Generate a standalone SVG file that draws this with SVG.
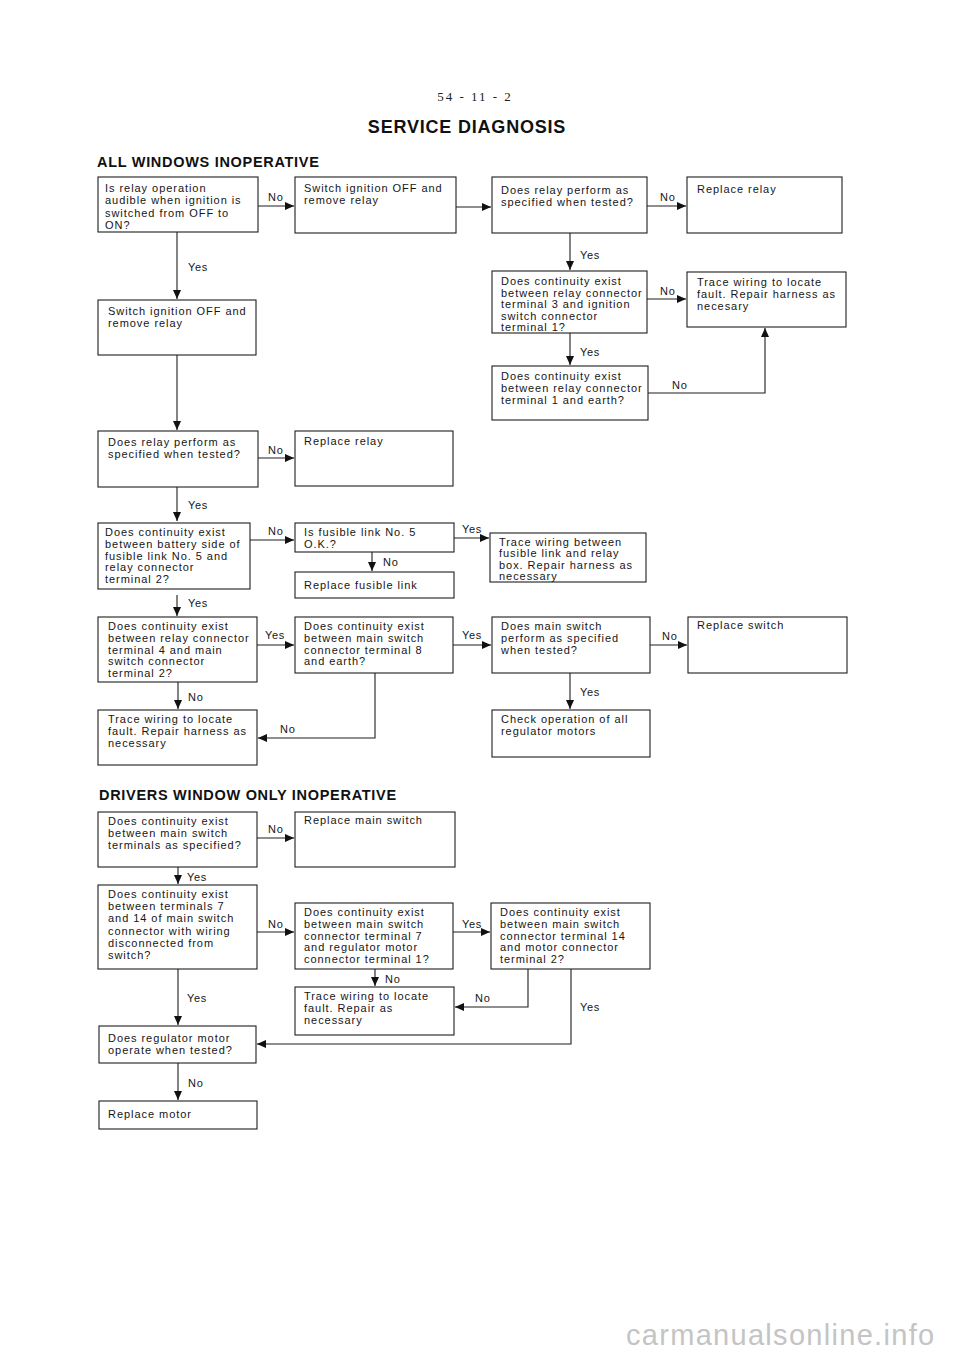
<svg xmlns="http://www.w3.org/2000/svg" width="960" height="1357" viewBox="0 0 960 1357">
<style>
.bg{fill:#fff}
.box{fill:none;stroke:#1e1e1e;stroke-width:1.1}
.t{font-family:"Liberation Sans",Arial,Helvetica,sans-serif;font-size:11px;letter-spacing:0.95px;fill:#161616}
.lbl{font-family:"Liberation Sans",Arial,Helvetica,sans-serif;font-size:11px;letter-spacing:0.7px;fill:#161616}
.h{font-family:"Liberation Sans",Arial,Helvetica,sans-serif;font-weight:bold;fill:#111}
.c{fill:none;stroke:#1e1e1e;stroke-width:1.1;marker-end:url(#ah)}
</style>
<defs>
<marker id="ah" markerUnits="userSpaceOnUse" markerWidth="9" markerHeight="8" refX="9" refY="4" orient="auto">
<path d="M0,0 L9,4 L0,8 Z" fill="#111"/>
</marker>
</defs>
<rect class="bg" x="0" y="0" width="960" height="1357"/>
<text x="475" y="101" text-anchor="middle" font-family="'Liberation Serif',serif" font-size="13" letter-spacing="2" fill="#222">54 - 11 - 2</text>
<text class="h" x="467" y="133" text-anchor="middle" font-size="18" letter-spacing="0.8">SERVICE DIAGNOSIS</text>
<text class="h" x="97" y="167" font-size="14.5" letter-spacing="0.7">ALL WINDOWS INOPERATIVE</text>
<text class="h" x="99" y="800" font-size="14.5" letter-spacing="0.7">DRIVERS WINDOW ONLY INOPERATIVE</text>

<g id="n1"><rect class="box" x="98" y="177" width="160" height="55"/><text class="t" y="192"><tspan x="105">Is relay operation</tspan><tspan x="105" dy="12.4">audible when ignition is</tspan><tspan x="105" dy="12.4">switched from OFF to</tspan><tspan x="105" dy="12.4">ON?</tspan></text></g>
<g id="n2"><rect class="box" x="295" y="177" width="161" height="56"/><text class="t" y="192"><tspan x="304">Switch ignition OFF and</tspan><tspan x="304" dy="12.4">remove relay</tspan></text></g>
<g id="n3"><rect class="box" x="492" y="177" width="155" height="56"/><text class="t" y="194"><tspan x="501">Does relay perform as</tspan><tspan x="501" dy="12.4">specified when tested?</tspan></text></g>
<g id="n4"><rect class="box" x="687" y="177" width="155" height="56"/><text class="t" y="193"><tspan x="697">Replace relay</tspan></text></g>
<g id="n5"><rect class="box" x="492" y="271" width="155" height="62"/><text class="t" y="285"><tspan x="501">Does continuity exist</tspan><tspan x="501" dy="11.6">between relay connector</tspan><tspan x="501" dy="11.6">terminal 3 and ignition</tspan><tspan x="501" dy="11.6">switch connector</tspan><tspan x="501" dy="11.6">terminal 1?</tspan></text></g>
<g id="n6"><rect class="box" x="687" y="272" width="159" height="55"/><text class="t" y="286"><tspan x="697">Trace wiring to locate</tspan><tspan x="697" dy="12">fault. Repair harness as</tspan><tspan x="697" dy="12">necesary</tspan></text></g>
<g id="n7"><rect class="box" x="492" y="366" width="156" height="54"/><text class="t" y="380"><tspan x="501">Does continuity exist</tspan><tspan x="501" dy="12">between relay connector</tspan><tspan x="501" dy="12">terminal 1 and earth?</tspan></text></g>
<g id="n8"><rect class="box" x="98" y="300" width="158" height="55"/><text class="t" y="315"><tspan x="108">Switch ignition OFF and</tspan><tspan x="108" dy="12.4">remove relay</tspan></text></g>
<g id="n9"><rect class="box" x="98" y="431" width="160" height="56"/><text class="t" y="446"><tspan x="108">Does relay perform as</tspan><tspan x="108" dy="12.4">specified when tested?</tspan></text></g>
<g id="n10"><rect class="box" x="295" y="431" width="158" height="55"/><text class="t" y="445"><tspan x="304">Replace relay</tspan></text></g>
<g id="n11"><rect class="box" x="98" y="523" width="152" height="66"/><text class="t" y="536"><tspan x="105">Does continuity exist</tspan><tspan x="105" dy="11.8">between battery side of</tspan><tspan x="105" dy="11.8">fusible link No. 5 and</tspan><tspan x="105" dy="11.8">relay connector</tspan><tspan x="105" dy="11.8">terminal 2?</tspan></text></g>
<g id="n12"><rect class="box" x="295" y="523" width="159" height="29"/><text class="t" y="536"><tspan x="304">Is fusible link No. 5</tspan><tspan x="304" dy="11.6">O.K.?</tspan></text></g>
<g id="n13"><rect class="box" x="295" y="572" width="159" height="26"/><text class="t" y="589"><tspan x="304">Replace fusible link</tspan></text></g>
<g id="n14"><rect class="box" x="490" y="533" width="156" height="49"/><text class="t" y="546"><tspan x="499">Trace wiring between</tspan><tspan x="499" dy="11.3">fusible link and relay</tspan><tspan x="499" dy="11.3">box. Repair harness as</tspan><tspan x="499" dy="11.3">necessary</tspan></text></g>
<g id="n15"><rect class="box" x="98" y="617" width="159" height="65"/><text class="t" y="630"><tspan x="108">Does continuity exist</tspan><tspan x="108" dy="11.8">between relay connector</tspan><tspan x="108" dy="11.8">terminal 4 and main</tspan><tspan x="108" dy="11.8">switch connector</tspan><tspan x="108" dy="11.8">terminal 2?</tspan></text></g>
<g id="n16"><rect class="box" x="295" y="617" width="158" height="56"/><text class="t" y="630"><tspan x="304">Does continuity exist</tspan><tspan x="304" dy="11.8">between main switch</tspan><tspan x="304" dy="11.8">connector terminal 8</tspan><tspan x="304" dy="11.8">and earth?</tspan></text></g>
<g id="n17"><rect class="box" x="492" y="617" width="158" height="56"/><text class="t" y="630"><tspan x="501">Does main switch</tspan><tspan x="501" dy="11.8">perform as specified</tspan><tspan x="501" dy="11.8">when tested?</tspan></text></g>
<g id="n18"><rect class="box" x="688" y="617" width="159" height="56"/><text class="t" y="629"><tspan x="697">Replace switch</tspan></text></g>
<g id="n19"><rect class="box" x="98" y="710" width="159" height="55"/><text class="t" y="723"><tspan x="108">Trace wiring to locate</tspan><tspan x="108" dy="12">fault. Repair harness as</tspan><tspan x="108" dy="12">necessary</tspan></text></g>
<g id="n20"><rect class="box" x="492" y="710" width="158" height="47"/><text class="t" y="723"><tspan x="501">Check operation of all</tspan><tspan x="501" dy="12">regulator motors</tspan></text></g>

<g id="n21"><rect class="box" x="98" y="812" width="159" height="55"/><text class="t" y="825"><tspan x="108">Does continuity exist</tspan><tspan x="108" dy="12.2">between main switch</tspan><tspan x="108" dy="12.2">terminals as specified?</tspan></text></g>
<g id="n22"><rect class="box" x="295" y="812" width="160" height="55"/><text class="t" y="824"><tspan x="304">Replace main switch</tspan></text></g>
<g id="n23"><rect class="box" x="98" y="885" width="159" height="84"/><text class="t" y="898"><tspan x="108">Does continuity exist</tspan><tspan x="108" dy="12.2">between terminals 7</tspan><tspan x="108" dy="12.2">and 14 of main switch</tspan><tspan x="108" dy="12.2">connector with wiring</tspan><tspan x="108" dy="12.2">disconnected from</tspan><tspan x="108" dy="12.2">switch?</tspan></text></g>
<g id="n24"><rect class="box" x="295" y="903" width="158" height="66"/><text class="t" y="916"><tspan x="304">Does continuity exist</tspan><tspan x="304" dy="11.8">between main switch</tspan><tspan x="304" dy="11.8">connector terminal 7</tspan><tspan x="304" dy="11.8">and regulator motor</tspan><tspan x="304" dy="11.8">connector terminal 1?</tspan></text></g>
<g id="n25"><rect class="box" x="491" y="903" width="159" height="66"/><text class="t" y="916"><tspan x="500">Does continuity exist</tspan><tspan x="500" dy="11.8">between main switch</tspan><tspan x="500" dy="11.8">connector terminal 14</tspan><tspan x="500" dy="11.8">and motor connector</tspan><tspan x="500" dy="11.8">terminal 2?</tspan></text></g>
<g id="n26"><rect class="box" x="295" y="987" width="159" height="48"/><text class="t" y="1000"><tspan x="304">Trace wiring to locate</tspan><tspan x="304" dy="11.8">fault. Repair as</tspan><tspan x="304" dy="11.8">necessary</tspan></text></g>
<g id="n27"><rect class="box" x="99" y="1026" width="157" height="37"/><text class="t" y="1042"><tspan x="108">Does regulator motor</tspan><tspan x="108" dy="12">operate when tested?</tspan></text></g>
<g id="n28"><rect class="box" x="99" y="1101" width="158" height="28"/><text class="t" y="1118"><tspan x="108">Replace motor</tspan></text></g>

<g id="connectors">
<path class="c" d="M258,206 H294"/>
<path class="c" d="M456,207 H491"/>
<path class="c" d="M647,206 H686"/>
<path class="c" d="M570,233 V270"/>
<path class="c" d="M647,299 H686"/>
<path class="c" d="M570,333 V365"/>
<path class="c" d="M648,393 H765 V328"/>
<path class="c" d="M177,232 V299"/>
<path class="c" d="M177,355 V430"/>
<path class="c" d="M258,458 H294"/>
<path class="c" d="M177,487 V521"/>
<path class="c" d="M250,540 H294"/>
<path class="c" d="M372,552 V571"/>
<path class="c" d="M454,538 H489"/>
<path class="c" d="M177,595 V616"/>
<path class="c" d="M257,645 H294"/>
<path class="c" d="M453,645 H491"/>
<path class="c" d="M650,645 H687"/>
<path class="c" d="M178,682 V709"/>
<path class="c" d="M375,673 V738 H258"/>
<path class="c" d="M570,673 V709"/>
<path class="c" d="M257,838 H294"/>
<path class="c" d="M178,867 V884"/>
<path class="c" d="M257,932 H294"/>
<path class="c" d="M453,932 H490"/>
<path class="c" d="M375,969 V986"/>
<path class="c" d="M528,969 V1007 H455"/>
<path class="c" d="M571,969 V1044 H257"/>
<path class="c" d="M178,969 V1025"/>
<path class="c" d="M178,1063 V1100"/>
<text class="lbl" x="268" y="201">No</text>
<text class="lbl" x="660" y="201">No</text>
<text class="lbl" x="580" y="259">Yes</text>
<text class="lbl" x="660" y="295">No</text>
<text class="lbl" x="580" y="356">Yes</text>
<text class="lbl" x="672" y="389">No</text>
<text class="lbl" x="188" y="271">Yes</text>
<text class="lbl" x="268" y="454">No</text>
<text class="lbl" x="188" y="509">Yes</text>
<text class="lbl" x="268" y="535">No</text>
<text class="lbl" x="383" y="566">No</text>
<text class="lbl" x="462" y="533">Yes</text>
<text class="lbl" x="188" y="607">Yes</text>
<text class="lbl" x="265" y="639">Yes</text>
<text class="lbl" x="462" y="639">Yes</text>
<text class="lbl" x="662" y="640">No</text>
<text class="lbl" x="188" y="701">No</text>
<text class="lbl" x="280" y="733">No</text>
<text class="lbl" x="580" y="696">Yes</text>
<text class="lbl" x="268" y="833">No</text>
<text class="lbl" x="187" y="881">Yes</text>
<text class="lbl" x="268" y="928">No</text>
<text class="lbl" x="462" y="928">Yes</text>
<text class="lbl" x="385" y="983">No</text>
<text class="lbl" x="475" y="1002">No</text>
<text class="lbl" x="580" y="1011">Yes</text>
<text class="lbl" x="187" y="1002">Yes</text>
<text class="lbl" x="188" y="1087">No</text>
</g>
<text x="626" y="1345" font-family="'Liberation Sans',Arial,sans-serif" font-size="29" letter-spacing="1.3" fill="#c4c4c4">carmanualsonline.info</text>
</svg>
